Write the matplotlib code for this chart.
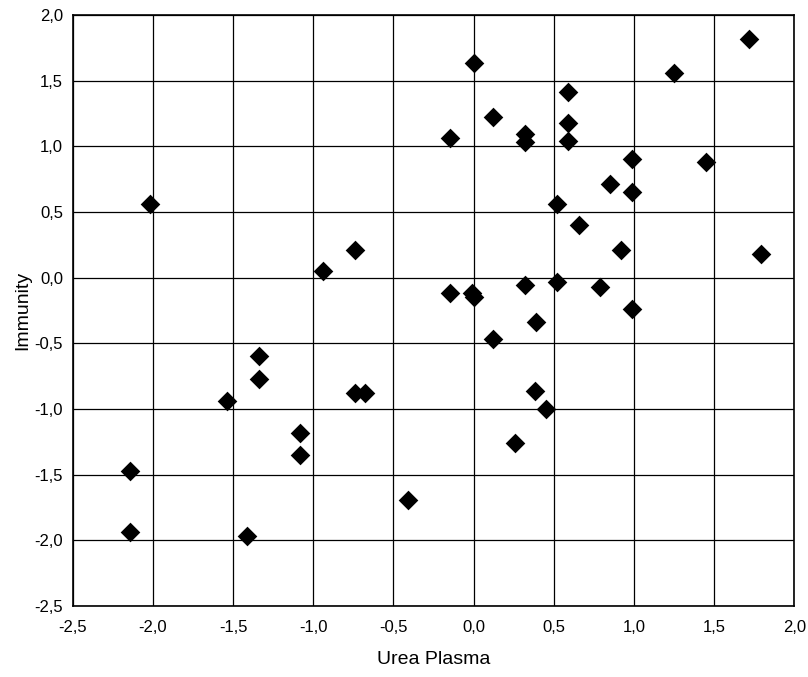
import numpy as np
import matplotlib
matplotlib.use("Agg")
import matplotlib.pyplot as plt
from matplotlib.ticker import FuncFormatter

plt.rcParams['font.family'] = ['Liberation Sans', 'DejaVu Sans']

# values
urea = [-2.02, -0.94, -0.74, 1.72, 0.0, 1.25, 0.59, 0.12, 0.59, -0.15,
        0.32, 0.32, 0.59, 0.99, 1.45, 0.85, 0.99, 0.52, 0.66, 0.92,
        1.79, -0.15, -0.01, 0.0, 0.32, 0.52, 0.79, 0.99, 0.39, 0.12,
        0.38, 0.45, 0.26, -1.34, -1.34, -1.54, -0.74, -0.68, -1.08, -1.08,
        -2.14, -0.41, -2.14, -1.41]
immunity = [0.56, 0.05, 0.21, 1.82, 1.63, 1.56, 1.41, 1.22, 1.18, 1.06,
            1.09, 1.03, 1.04, 0.90, 0.88, 0.71, 0.65, 0.56, 0.40, 0.21,
            0.18, -0.12, -0.12, -0.15, -0.06, -0.03, -0.07, -0.24, -0.34, -0.47,
            -0.86, -1.00, -1.26, -0.60, -0.77, -0.94, -0.88, -0.88, -1.18, -1.35,
            -1.47, -1.69, -1.94, -1.97]

xticks = np.arange(-2.5, 2.01, 0.5)
yticks = np.arange(-2.5, 2.01, 0.5)

fig = plt.figure(figsize=(8.08, 6.77), dpi=100)
ax = fig.add_axes([0.09, 0.105, 0.893, 0.873])

ax.scatter(urea, immunity, marker='D', s=100, color='black', zorder=3, linewidths=0)

ax.set_xlim(-2.5, 2.0)
ax.set_ylim(-2.5, 2.0)
ax.set_xticks(xticks)
ax.set_yticks(yticks)
fmt = FuncFormatter(lambda v, p: f"{v:.1f}".replace('.', ','))
ax.xaxis.set_major_formatter(fmt)
ax.yaxis.set_major_formatter(fmt)
ax.grid(True, color='black', linewidth=0.9)
ax.set_axisbelow(True)
for s in ax.spines.values():
    s.set_linewidth(1.2)
ax.tick_params(length=0, labelsize=12)
ax.tick_params(axis='x', pad=10)
ax.tick_params(axis='y', pad=7)

ax.set_xlabel('Urea Plasma', fontsize=14, labelpad=12)
ax.set_ylabel('Immunity', fontsize=14, labelpad=2)

fig.savefig('out.png', dpi=100)
